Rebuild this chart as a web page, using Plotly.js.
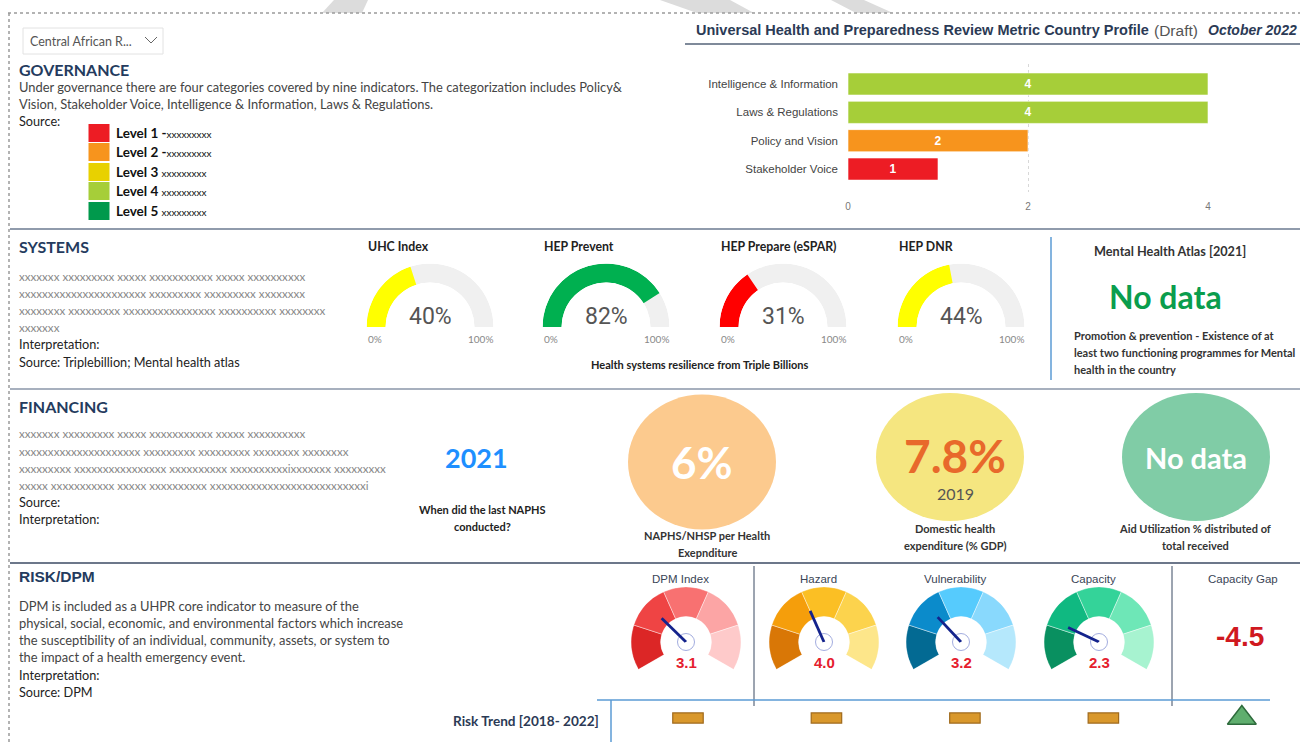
<!DOCTYPE html>
<html><head><meta charset="utf-8">
<script src="https://cdn.plot.ly/plotly-3.0.1.min.js"></script>
<style>html,body{margin:0;padding:0;background:#fff;overflow:hidden}#chart{width:1300px;height:742px}</style>
</head><body><div id="chart"></div>
<script>
// ---------------- DATA ----------------
const countryName = 'Central African R...';
const govCategories = ['Intelligence & Information', 'Laws & Regulations', 'Policy and Vision', 'Stakeholder Voice'];
const govLevels = [4, 4, 2, 1];
const levelNames = ['Level 1 -', 'Level 2 -', 'Level 3 ', 'Level 4 ', 'Level 5 '];
const levelNotes = ['xxxxxxxxx', 'xxxxxxxxx', 'xxxxxxxxx', 'xxxxxxxxx', 'xxxxxxxxx'];

const sysLabels = ['UHC Index', 'HEP Prevent', 'HEP Prepare (eSPAR)', 'HEP DNR'];
const sysValues = [40, 82, 31, 44];
const mentalHealthValue = 'No data';

const naphsYear = '2021';
const finLabels = [['NAPHS/NHSP per Health', 'Exepnditure'], ['Domestic health', 'expenditure (% GDP)'], ['Aid Utilization % distributed of', 'total received']];
const finValues = ['6%', '7.8%', 'No data'];
const finYears = ['', '2019', ''];

const riskLabels = ['DPM Index', 'Hazard', 'Vulnerability', 'Capacity'];
const riskValues = [3.1, 4.0, 3.2, 2.3];
const riskMax = 10;
const capacityGap = -4.5;
const trendYears = [2018, 2019, 2020, 2021, 2022];
const trendDir = ['stable', 'stable', 'stable', 'stable', 'up'];

// ---------------- STYLE ----------------
const W = 1300, H = 742;
const X = p => p / W, Y = p => 1 - p / H;
const FONT = "Lato, 'Noto Sans', 'DejaVu Sans', sans-serif";
const ARIAL = "'Liberation Sans', Arial, sans-serif";
const NARROW = "'Liberation Sans Narrow', 'Arial Narrow', Roboto, sans-serif";
const HEAD = '#243b5e';
const levelColors = ['#ed1c24', '#f7941d', '#e8d100', '#a6ce39', '#00994c'];
const sysColors = ['#ffff00', '#00b050', '#ff0000', '#ffff00'];
const sysCenters = [430, 606, 783, 961];
const finFill = ['#fcca8e', '#f5e680', '#80cca6'];
const finTextColor = ['#ffffff', '#e8692b', '#ffffff'];
const finCenters = [[702, 462], [950, 457], [1196, 457]];
const finSize = [[148, 135], [148, 128], [148, 128]];
const riskPalettes = [
  ['#dc2626', '#ef4444', '#f87171', '#fca5a5', '#fecaca'],
  ['#d97706', '#f59e0b', '#fbbf24', '#fcd34d', '#fde68a'],
  ['#036a93', '#0b8bcb', '#56cbfd', '#89d9fd', '#b5e8fc'],
  ['#099060', '#10b981', '#34d399', '#6ee7b7', '#a7f3d0']
];
const riskCenters = [686, 824, 961, 1099];

const traces = [], shapes = [], annotations = [];
const layout = {
  width: W, height: H, margin: {l: 0, r: 0, t: 0, b: 0},
  paper_bgcolor: '#ffffff', plot_bgcolor: 'rgba(0,0,0,0)', showlegend: false,
  font: {family: FONT}, hovermode: false
};

function txt(text, x, y, o = {}) {
  annotations.push({
    text, x: X(x), y: Y(y), xref: 'paper', yref: 'paper', showarrow: false,
    xanchor: o.anchor || 'left', yanchor: 'middle', borderpad: 0,
    font: {family: o.family || FONT, size: o.size || 12, color: o.color || '#333',
      weight: o.weight || 'normal', style: o.style || 'normal'}
  });
}
function line(x0, y0, x1, y1, color, width, dash) {
  shapes.push({type: 'line', xref: 'paper', yref: 'paper', x0: X(x0), y0: Y(y0), x1: X(x1), y1: Y(y1),
    line: {color, width, dash: dash || 'solid'}});
}
function poly(pts, fill, layer) {
  const d = pts.map((p, i) => (i ? 'L' : 'M') + X(p[0]).toFixed(5) + ',' + Y(p[1]).toFixed(5)).join(' ') + ' Z';
  shapes.push({type: 'path', xref: 'paper', yref: 'paper', path: d, fillcolor: fill, line: {width: 0}, layer: layer || 'below'});
}

// watermark fragments (top margin)
poly([[322, 13], [334, 0], [368, 0], [362, 13]], '#dcdcdc');
poly([[660, 0], [730, 0], [754, 13], [697, 13]], '#dcdcdc');
poly([[831, 0], [864, 0], [893, 13], [856, 13]], '#dcdcdc');
shapes.push({type: 'rect', xref: 'paper', yref: 'paper', x0: X(9), x1: 1, y0: 0, y1: Y(13), fillcolor: '#ffffff', line: {width: 0}, layer: 'below'});

// frame
line(8, 13, 1300, 13, '#9a9a9a', 1.5, 'dot');
line(9, 13, 9, 742, '#9a9a9a', 1.5, 'dot');
line(10, 229, 1300, 229, '#6b7a90', 1.5);
line(10, 389, 1300, 389, '#8a96a8', 1.5);
line(10, 563, 1300, 563, '#3b4a63', 1.5);
line(685, 44, 1300, 44, '#7f8a9a', 2);

// dropdown
shapes.push({type: 'rect', xref: 'paper', yref: 'paper', x0: X(23), x1: X(163), y0: Y(54), y1: Y(28),
  fillcolor: '#fff', line: {color: '#e2e2e2', width: 1}});
txt(countryName, 29, 41, {size: 12.5, color: '#555'});
shapes.push({type: 'path', xref: 'paper', yref: 'paper',
  path: `M${X(145)},${Y(37)} L${X(151)},${Y(43)} L${X(157)},${Y(37)}`, line: {color: '#666', width: 1}});

// title
txt('<b>Universal Health and Preparedness Review Metric Country Profile</b>', 695, 30, {size: 14.5, color: '#2b3a55', family: ARIAL});
txt('(Draft)', 1153, 30, {size: 15.5, color: '#555', family: ARIAL});
txt('<b><i>October 2022</i></b>', 1298, 30, {size: 14, color: '#2b3a55', family: ARIAL, anchor: 'right'});

// ---------------- GOVERNANCE ----------------
txt('GOVERNANCE', 18, 69, {size: 16, color: HEAD, weight: 'bold'});
txt('Under governance there are four categories covered by nine indicators. The categorization includes Policy&', 18, 87, {size: 12.9, color: '#444'});
txt('Vision, Stakeholder Voice, Intelligence & Information, Laws & Regulations.', 18, 104, {size: 12.9, color: '#444'});
txt('Source:', 18, 121, {size: 12.7, color: '#222'});
const legendY = [133, 152, 172, 191, 211];
levelNames.forEach((n, i) => {
  shapes.push({type: 'rect', xref: 'paper', yref: 'paper', x0: X(88), x1: X(110), y0: Y(legendY[i] + 9.5), y1: Y(legendY[i] - 9.5),
    fillcolor: levelColors[i], line: {color: '#ffffff', width: 1}});
  txt('<b>' + n + '</b><span style="font-size:10px">' + levelNotes[i] + '</span>', 115, legendY[i], {size: 13.5, color: '#111'});
});

traces.push({
  type: 'bar', orientation: 'h', xaxis: 'x', yaxis: 'y',
  y: govCategories.map((c, i) => i), x: govLevels, width: 0.78,
  marker: {color: govLevels.map(v => levelColors[v - 1]), line: {color: 'rgba(255,255,255,0.6)', width: 1}},
  text: govLevels.map(String), textposition: 'inside', insidetextanchor: 'middle',
  textfont: {color: '#ffffff', size: 12, family: ARIAL, weight: 'bold'}, hoverinfo: 'skip', cliponaxis: false
});
layout.xaxis = {domain: [X(848), X(1208)], range: [0, 4], tickvals: [0, 2, 4], showgrid: true, gridcolor: '#d8d8d8', griddash: 'dot',
  zeroline: false, showline: false, ticks: '', ticklabelstandoff: 7, tickfont: {size: 10, color: '#777', family: ARIAL}, fixedrange: true, anchor: 'y'};
layout.yaxis = {domain: [Y(192), Y(64)], range: [3.81, -0.706], tickvals: [0, 1, 2, 3], ticktext: govCategories, showgrid: false,
  zeroline: false, showline: false, ticks: '', ticklabelstandoff: 9, tickfont: {size: 11.5, color: '#444', family: ARIAL}, fixedrange: true, anchor: 'x'};

// ---------------- SYSTEMS ----------------
txt('SYSTEMS', 18, 246, {size: 16, color: HEAD, weight: 'bold'});
const sysX = ['xxxxxxx xxxxxxxxx xxxxx xxxxxxxxxxx xxxxx xxxxxxxxxx', 'xxxxxxxxxxxxxxxxxxxxxx xxxxxxxxx xxxxxxxxx xxxxxxxx',
  'xxxxxxxx xxxxxxxxx xxxxxxxxxxxxxxxx xxxxxxxxxx xxxxxxxx', 'xxxxxxx'];
[276, 293, 310, 327].forEach((y, i) => txt(sysX[i], 18, y, {size: 11.6, color: '#888'}));
txt('Interpretation:', 18, 344, {size: 12.7, color: '#222'});
txt('Source: Triplebillion; Mental health atlas', 18, 362, {size: 12.7, color: '#222'});

let pid = 0;
function nextPolar() { pid++; return pid === 1 ? 'polar' : 'polar' + pid; }
sysLabels.forEach((lab, i) => {
  const cx = sysCenters[i], R = 63.5, base = 327, v = sysValues[i];
  const id = nextPolar();
  layout[id] = {domain: {x: [X(cx - R), X(cx + R)], y: [Y(base), Y(base - R)]}, sector: [0, 180], hole: 0.7,
    bgcolor: 'rgba(0,0,0,0)', radialaxis: {visible: false, range: [0, 1]},
    angularaxis: {visible: false, rotation: 180, direction: 'clockwise'}};
  traces.push({type: 'barpolar', subplot: id, r: [1], theta: [90], width: [180], marker: {color: '#f0f0f0', line: {width: 0}}, hoverinfo: 'skip'});
  traces.push({type: 'barpolar', subplot: id, r: [1], theta: [v * 0.9], width: [v * 1.8], marker: {color: sysColors[i], line: {width: 0}}, hoverinfo: 'skip'});
  txt(lab, cx - R, 246, {size: 12.3, color: '#222', weight: 'bold'});
  txt(v + '%', cx, 316, {size: 23, color: '#555', family: NARROW, anchor: 'center'});
  txt('0%', cx - R, 339, {size: 10, color: '#888'});
  txt('100%', cx + R, 339, {size: 10, color: '#888', anchor: 'right'});
});
txt('Health systems resilience from Triple Billions', 700, 364, {size: 11, color: '#222', weight: 'bold', anchor: 'center'});
line(1051, 237, 1051, 380, '#5b9bd5', 1.5);
txt('Mental Health Atlas [2021]', 1170, 251, {size: 12.7, color: '#333', weight: 'bold', anchor: 'center'});
txt(mentalHealthValue, 1165, 296, {size: 32, color: '#0a9d4d', weight: 'bold', anchor: 'center'});
txt('Promotion & prevention - Existence of at', 1073, 335, {size: 11, color: '#333', weight: 'bold'});
txt('least two functioning programmes for Mental', 1073, 352, {size: 11, color: '#333', weight: 'bold'});
txt('health in the country', 1073, 370, {size: 11, color: '#333', weight: 'bold'});

// ---------------- FINANCING ----------------
txt('FINANCING', 18, 407, {size: 16, color: HEAD, weight: 'bold'});
const finX = ['xxxxxxx xxxxxxxxx xxxxx xxxxxxxxxxx xxxxx xxxxxxxxxx', 'xxxxxxxxxxxxxxxxxxxxx xxxxxxxxx xxxxxxxxx xxxxxxxx xxxxxxxx',
  'xxxxxxxxx xxxxxxxxxxxxxxxx xxxxxxxxxx xxxxxxxxxxixxxxxxx xxxxxxxxx', 'xxxxx xxxxxxxxxxx xxxxx xxxxxxxxxx xxxxxxxxxxxxxxxxxxxxxxxxxxxi'];
[433, 451, 468, 485].forEach((y, i) => txt(finX[i], 18, y, {size: 11.6, color: '#888'}));
txt('Source:', 18, 502, {size: 12.7, color: '#222'});
txt('Interpretation:', 18, 519, {size: 12.7, color: '#222'});
txt(naphsYear, 476, 457, {size: 27, color: '#1e8fff', weight: 'bold', anchor: 'center'});
txt('When did the last NAPHS', 482, 509, {size: 11, color: '#222', weight: 'bold', anchor: 'center'});
txt('conducted?', 482, 526, {size: 11, color: '#222', weight: 'bold', anchor: 'center'});
finValues.forEach((v, i) => {
  const [cx, cy] = finCenters[i], [w, h] = finSize[i];
  shapes.push({type: 'circle', xref: 'paper', yref: 'paper', x0: X(cx - w / 2), x1: X(cx + w / 2), y0: Y(cy + h / 2), y1: Y(cy - h / 2),
    fillcolor: finFill[i], line: {width: 0}, layer: 'below'});
  const size = i === 0 ? 44 : (i === 1 ? 46 : 29);
  txt(v, i === 1 ? cx + 5 : cx, i === 1 ? cy - 2 : cy, {size, color: finTextColor[i], weight: 'bold', anchor: 'center'});
  if (finYears[i]) txt(finYears[i], cx + 5, 493, {size: 16, color: '#555', anchor: 'center'});
  const capX = i === 0 ? 707 : cx + (i === 1 ? 5 : -1);
  const capY = i === 0 ? [535, 552] : [528, 545];
  finLabels[i].forEach((l, j) => txt(l, capX, capY[j], {size: 11, color: '#333', weight: 'bold', anchor: 'center'}));
});

// ---------------- RISK ----------------
txt('RISK/DPM', 18, 576, {size: 15.5, color: HEAD, weight: 'bold', family: ARIAL});
const riskText = ['DPM is included as a UHPR core indicator to measure of the',
  'physical, social, economic, and environmental factors which increase',
  'the susceptibility of an individual, community, assets, or system to',
  'the impact of a health emergency event.'];
[606, 623, 640, 657].forEach((y, i) => txt(riskText[i], 18, y, {size: 12.9, color: '#444'}));
txt('Interpretation:', 18, 675, {size: 12.7, color: '#222'});
txt('Source: DPM', 18, 692, {size: 12.7, color: '#222'});

line(754, 566, 754, 706, '#3b4a63', 1);
line(1172, 566, 1172, 706, '#3b4a63', 1);
riskLabels.forEach((lab, i) => {
  const cx = riskCenters[i], cy = 642, R = 55, v = riskValues[i];
  const dom = {x: [X(cx - R), X(cx + R)], y: [Y(cy + R * 0.5), Y(cy - R)]};
  const ang = {visible: false, rotation: 210, direction: 'clockwise'};
  const id = nextPolar();
  layout[id] = {domain: dom, sector: [-30, 210], hole: 0.46, bgcolor: 'rgba(0,0,0,0)', radialaxis: {visible: false, range: [0, 1]}, angularaxis: ang};
  traces.push({type: 'barpolar', subplot: id, r: [1, 1, 1, 1, 1], theta: [24, 72, 120, 168, 216], width: [48, 48, 48, 48, 48],
    marker: {color: riskPalettes[i], line: {color: 'rgba(255,255,255,0.7)', width: 0.6}}, hoverinfo: 'skip'});
  const id2 = nextPolar();
  layout[id2] = {domain: dom, sector: [-30, 210], hole: 0, bgcolor: 'rgba(0,0,0,0)', radialaxis: {visible: false, range: [0, 1]}, angularaxis: ang};
  const th = v / riskMax * 240;
  traces.push({type: 'scatterpolar', subplot: id2, mode: 'markers', r: [0], theta: [th],
    marker: {symbol: 'circle-open', size: 17, color: '#a3addf', line: {width: 1}}, hoverinfo: 'skip'});
  traces.push({type: 'scatterpolar', subplot: id2, mode: 'lines', r: [0, 0.62], theta: [th, th],
    line: {color: '#14238c', width: 2.8}, hoverinfo: 'skip'});
  txt(lab, cx - 6, 579, {size: 11.5, color: '#3a4556', family: ARIAL, anchor: 'center'});
  txt(v.toFixed(1), cx, 662, {size: 15, color: '#e5202e', weight: 'bold', family: ARIAL, anchor: 'center'});
});
txt('Capacity Gap', 1243, 579, {size: 11.5, color: '#3a4556', family: ARIAL, anchor: 'center'});
txt(capacityGap.toFixed(1), 1240, 636, {size: 28, color: '#d0191f', weight: 'bold', family: ARIAL, anchor: 'center'});

// risk trend
line(597, 700, 1270, 700, '#5b9bd5', 1.5);
line(611, 700, 611, 742, '#5b9bd5', 1.5);
txt('Risk Trend [2018- 2022]', 600, 721, {size: 13.6, color: '#2b3a55', weight: 'bold', anchor: 'right'});
const stableIdx = trendYears.map((y, i) => i).filter(i => trendDir[i] === 'stable');
const upIdx = trendYears.map((y, i) => i).filter(i => trendDir[i] === 'up');
traces.push({type: 'bar', xaxis: 'x2', yaxis: 'y2', x: stableIdx, y: stableIdx.map(() => 0.28), base: stableIdx.map(() => 0.36), width: 0.22,
  marker: {color: '#d9982c', line: {color: '#a06a1c', width: 1.2}}, hoverinfo: 'skip'});
traces.push({type: 'scatter', mode: 'markers', xaxis: 'x2', yaxis: 'y2', x: upIdx, y: upIdx.map(() => 0.5),
  marker: {symbol: 'triangle-up', size: 25, color: '#5fae6e', line: {color: '#2e6b3c', width: 1.5}}, hoverinfo: 'skip'});
layout.xaxis2 = {domain: [X(611), 1], range: [-0.556, 4.42], visible: false, fixedrange: true, anchor: 'y2'};
layout.yaxis2 = {domain: [Y(736), Y(700)], range: [0, 1], visible: false, fixedrange: true, anchor: 'x2'};

layout.shapes = shapes;
layout.annotations = annotations;
Plotly.newPlot('chart', traces, layout, {staticPlot: true, displayModeBar: false});
</script></body></html>
